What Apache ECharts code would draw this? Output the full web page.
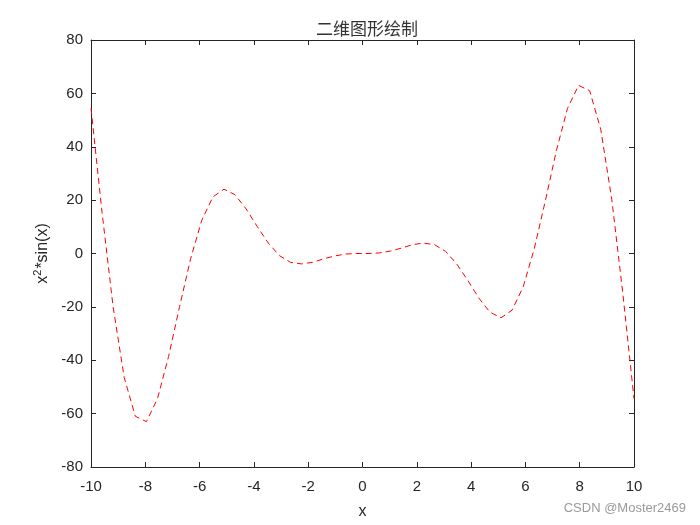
<!DOCTYPE html>
<html>
<head>
<meta charset="utf-8">
<script src="https://cdn.jsdelivr.net/npm/echarts@6/dist/echarts.min.js"></script>
<style>
  html, body { margin: 0; padding: 0; background: #fff; }
  #chart { width: 700px; height: 525px; }
</style>
</head>
<body>
<div id="chart"></div>
<script>
// sample positions along x (50 points, -10 .. 10)
const xValues = [-10, -9.592, -9.184, -8.776, -8.367, -7.959, -7.551, -7.143, -6.735, -6.327,
  -5.918, -5.510, -5.102, -4.694, -4.286, -3.878, -3.469, -3.061, -2.653, -2.245,
  -1.837, -1.429, -1.020, -0.612, -0.204, 0.204, 0.612, 1.020, 1.429, 1.837,
  2.245, 2.653, 3.061, 3.469, 3.878, 4.286, 4.694, 5.102, 5.510, 5.918,
  6.327, 6.735, 7.143, 7.551, 7.959, 8.367, 8.776, 9.184, 9.592, 10]
// curve values
const yValues = [54.4, 15.3, -20.1, -46.5, -61.0, -63.0, -54.4, -38.6, -19.8, -1.8,
  12.5, 21.2, 24.1, 22.0, 16.7, 10.1, 3.9, -0.8, -3.3, -3.9,
  -3.3, -2.0, -0.9, -0.2, 0.0, 0.0, 0.2, 0.9, 2.0, 3.3,
  3.9, 3.3, 0.8, -3.9, -10.1, -16.7, -22.0, -24.1, -21.2, -12.5,
  1.8, 19.8, 38.6, 54.4, 63.0, 61.0, 46.5, 20.1, -15.3, -54.4]

const textColor = '#262626'
const fontFamily = 'Liberation Sans, Arial, sans-serif'

const chart = echarts.init(document.getElementById('chart'))

// box axes: ticks inside on all four sides
const boxAxis = (extra) => Object.assign({
  axisLine: { show: true, onZero: false, lineStyle: { color: textColor, width: 1 } },
  axisTick: { show: true, inside: true, length: 5, lineStyle: { color: textColor } },
  splitLine: { show: false }
}, extra)

const option = {
  backgroundColor: '#fff',
  animation: false,
  title: {
    text: '二维图形绘制',
    left: 362,
    top: 15,
    textAlign: 'center',
    textStyle: { fontSize: 17, fontWeight: 'normal', color: '#333', fontFamily: 'Noto Sans CJK SC' }
  },
  grid: { left: 91, right: 66, top: 40, bottom: 58 },
  xAxis: [
    boxAxis({
      type: 'value', min: -10, max: 10, interval: 2, position: 'bottom',
      name: 'x', nameLocation: 'middle', nameGap: 37,
      nameTextStyle: { fontSize: 16, color: textColor, fontFamily },
      axisLabel: { fontSize: 15, color: textColor, fontFamily, margin: 12 }
    }),
    boxAxis({
      type: 'value', min: -10, max: 10, interval: 2, position: 'top',
      axisLabel: { show: false }
    })
  ],
  yAxis: [
    boxAxis({
      type: 'value', min: -80, max: 80, interval: 20, position: 'left',
      name: 'x{sup|2}*sin(x)', nameLocation: 'middle', nameGap: 36,
      nameTextStyle: {
        fontSize: 16, color: textColor, fontFamily,
        rich: { sup: { fontSize: 11, color: textColor, fontFamily, verticalAlign: 'top', padding: [0, 1, 9, 0] } }
      },
      axisLabel: { fontSize: 15, color: textColor, fontFamily, margin: 8 }
    }),
    boxAxis({
      type: 'value', min: -80, max: 80, interval: 20, position: 'right',
      axisLabel: { show: false }
    })
  ],
  graphic: [{
    type: 'text',
    right: 14,
    top: 502,
    style: { text: 'CSDN @Moster2469', fontSize: 13, fill: '#9a9a9a', fontFamily }
  }],
  series: [{
    type: 'line',
    xAxisIndex: 0,
    yAxisIndex: 0,
    data: xValues.map((x, i) => [x, yValues[i]]),
    showSymbol: false,
    smooth: false,
    lineStyle: { color: '#ff0000', width: 1, type: [6, 4] }
  }]
}

chart.setOption(option)
</script>
</body>
</html>
